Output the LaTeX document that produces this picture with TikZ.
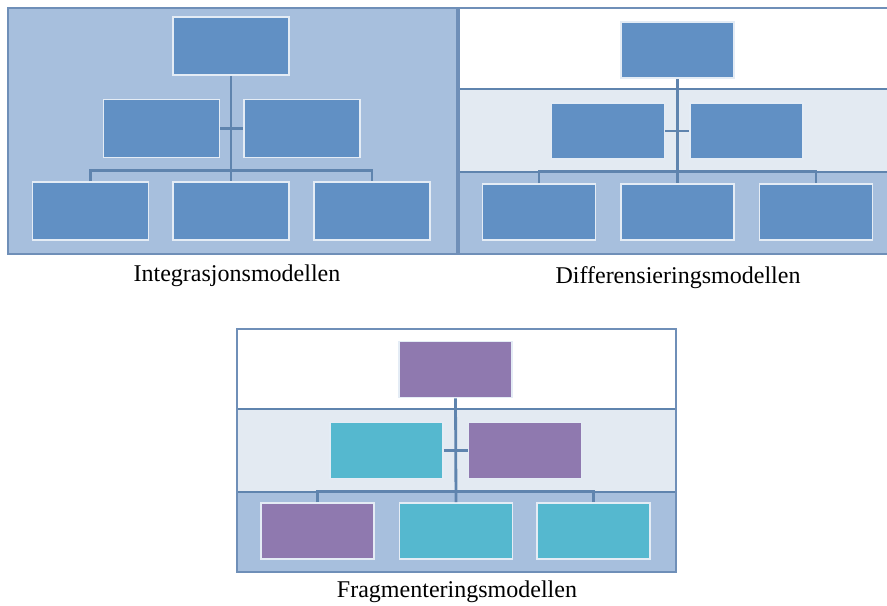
\documentclass[tikz,border=0pt]{standalone}
\usepackage{fontspec}
\setmainfont{Liberation Serif}
\usetikzlibrary{positioning}

\definecolor{panelblue}{RGB}{167,191,221}
\definecolor{lightband}{RGB}{227,234,242}
\definecolor{boxblue}{RGB}{97,144,196}
\definecolor{boxpurple}{RGB}{143,121,175}
\definecolor{boxcyan}{RGB}{85,184,207}
\definecolor{linkblue}{RGB}{95,132,174}
\definecolor{frameblue}{RGB}{111,143,184}
\definecolor{boxedge}{RGB}{228,236,245}

\begin{document}
\begin{tikzpicture}[
    x=0.03cm, y=-0.03cm,
    % Define the looks
    block/.style={
        rectangle,
        draw=boxedge,
        line width=1.5pt,
        inner sep=0pt
    },
    bigblock/.style={block, minimum width=3.48cm, minimum height=1.74cm},
    smallblock/.style={block, minimum width=3.39cm, minimum height=1.68cm},
    blueblock/.style={smallblock, fill=boxblue},
    purpleblock/.style={smallblock, fill=boxpurple},
    cyanblock/.style={smallblock, fill=boxcyan},
    frame/.style={draw=frameblue, line width=2.2pt},
    band/.style={draw=linkblue, line width=2.2pt},
    link/.style={draw=linkblue, line width=2.4pt},
    caption/.style={font=\fontsize{20.5}{24}\selectfont, inner sep=0pt}
]
\useasboundingbox (0,0) rectangle (887,605);

% Integrasjonsmodellen
\draw[frame, fill=panelblue] (8,8) rectangle (457,254);
\node[bigblock, fill=boxblue] (i0) at (231,46) {};
\node[bigblock, fill=boxblue] (i1) at (161.5,128.5) {};
\node[bigblock, fill=boxblue] (i2) at (302,128.5) {};
\node[bigblock, fill=boxblue] (i3) at (90.5,211) {};
\node[bigblock, fill=boxblue] (i4) at (231,211) {};
\node[bigblock, fill=boxblue] (i5) at (372,211) {};
\draw[link] (i0.south) -- (i4.north);
\draw[link] (i1.east) -- (i2.west);
\draw[link] (i3.north) -- ++(0,-11) -| (i5.north);
\node[caption] (icap) at (237,276) {Integrasjonsmodellen};

% Differensieringsmodellen
\fill[white] (459,8) rectangle (887,89);
\fill[lightband] (459,89) rectangle (887,172);
\fill[panelblue] (459,172) rectangle (887,254);
\draw[band] (459,89) -- (887,89);
\draw[band] (459,172) -- (887,172);
\draw[frame] (887,8) -- (459,8) -- (459,254) -- (887,254);
\node[blueblock] (d0) at (677.5,50) {};
\node[blueblock] (d1) at (608,131) {};
\node[blueblock] (d2) at (746.5,131) {};
\node[blueblock] (d3) at (539,212) {};
\node[blueblock] (d4) at (677.5,212) {};
\node[blueblock] (d5) at (816,212) {};
\draw[link] (d0.south) -- (d4.north);
\draw[link] (d1.east) -- (d2.west);
\draw[link] (d3.north) -- ++(0,-12) -| (d5.north);
\node[caption] (dcap) at (678,278) {Differensieringsmodellen};

% Fragmenteringsmodellen
\fill[white] (237,329) rectangle (676,409);
\fill[lightband] (237,409) rectangle (676,492);
\fill[panelblue] (237,492) rectangle (676,572);
\draw[band] (237,409) -- (676,409);
\draw[band] (237,492) -- (676,492);
\draw[frame] (237,329) rectangle (676,572);
\node[purpleblock] (f0) at (455.5,369.5) {};
\node[cyanblock] (f1) at (386.5,450.5) {};
\node[purpleblock] (f2) at (525,450.5) {};
\node[purpleblock] (f3) at (317.5,531) {};
\node[cyanblock] (f4) at (456,531) {};
\node[cyanblock] (f5) at (593.5,531) {};
\draw[link] (f0.south) -- (f4.north);
\draw[link] (f1.east) -- (f2.west);
\draw[link] (f3.north) -- ++(0,-11) -| (f5.north);
\node[caption] (fcap) at (457,592) {Fragmenteringsmodellen};

\end{tikzpicture}
\end{document}
